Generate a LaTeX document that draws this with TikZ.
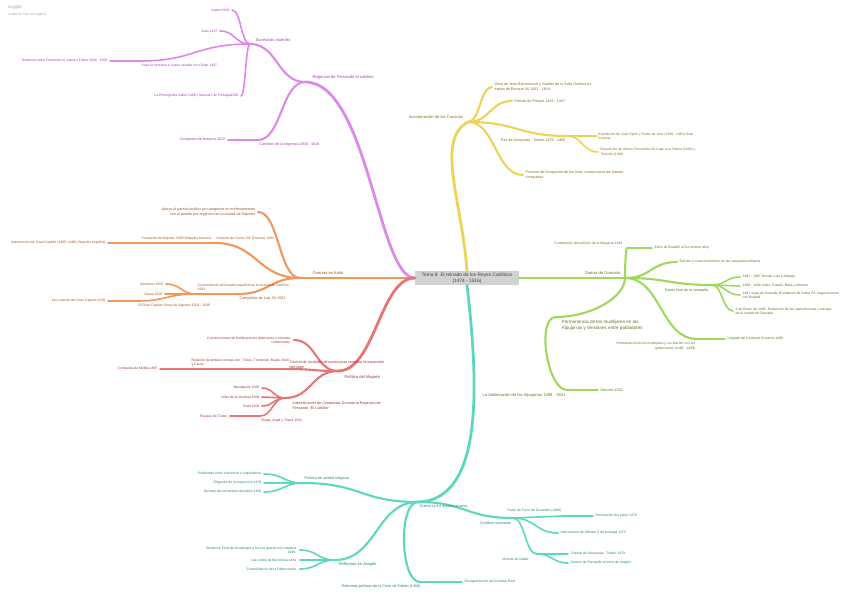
\documentclass[tikz,border=0pt]{standalone}
\usepackage{fontspec}
\setmainfont{Liberation Sans}
\usepackage{tikz}
\usetikzlibrary{positioning, calc}

\definecolor{purline}{HTML}{DD88EA}
\definecolor{purtext}{HTML}{9A3FB0}
\definecolor{yelline}{HTML}{EBD458}
\definecolor{yeltext}{HTML}{86701E}
\definecolor{oraline}{HTML}{F0985C}
\definecolor{oratext}{HTML}{A0532A}
\definecolor{redline}{HTML}{E87474}
\definecolor{redtext}{HTML}{9E3232}
\definecolor{grnline}{HTML}{9ED85E}
\definecolor{grntext}{HTML}{5A7620}
\definecolor{tealine}{HTML}{5CD8BC}
\definecolor{teatext}{HTML}{2A7F6B}
\definecolor{rootfill}{HTML}{D2D2D2}

\begin{document}
\begin{tikzpicture}[
        x=1pt, y=-1pt,
        line cap=round,
        root/.style = {fill=rootfill, minimum width=104pt, minimum height=14pt, inner sep=1pt, align=center, text=black!75, font=\fontsize{4.8}{5.8}\selectfont},
        txt/.style  = {inner sep=0.5pt, font=\fontsize{3.4}{4.3}\selectfont},
        sub/.style  = {inner sep=0.5pt, font=\fontsize{3.7}{4.6}\selectfont},
        mid/.style  = {inner sep=0.5pt, font=\fontsize{4.1}{5}\selectfont},
        big/.style  = {inner sep=0.5pt, font=\fontsize{4.6}{5.6}\selectfont},
        l1/.style = {line width=2.8pt},
        l2/.style = {line width=2.1pt},
        l3/.style = {line width=1.6pt},
        pur/.style = {draw=purline}, purt/.style = {text=purtext},
        yel/.style = {draw=yelline}, yelt/.style = {text=yeltext},
        ora/.style = {draw=oraline}, orat/.style = {text=oratext},
        red/.style = {draw=redline}, redt/.style = {text=redtext},
        grn/.style = {draw=grnline}, grnt/.style = {text=grntext},
        tea/.style = {draw=tealine}, teat/.style = {text=teatext},
        hlink/.style = {to path={let \p1=(\tikztostart), \p2=(\tikztotarget) in
            .. controls ({(\x1+\x2)/2},\y1) and ({(\x1+\x2)/2},\y2) .. (\tikztotarget)}},
        vlink/.style = {to path={let \p1=(\tikztostart), \p2=(\tikztotarget) in
            .. controls (\x1,{(\y1+\y2)/2}) and ({(\x1+\x2)/2},\y2) .. (\tikztotarget)}},
    ]
        \useasboundingbox (0,0) rectangle (848,596);

        \node[inner sep=0, anchor=west, text=black!35, font=\fontsize{4.6}{5}\selectfont\itshape] (logo) at (8,7) {coggle};
        \node[txt, anchor=west, text=black!35] (made) at (8,15) {made for free at coggle.it};

        \node[root] (cen) at (467,278) {Tema 8: El reinado de los Reyes Católicos\\(1474 - 1516)};

        % Regencia
        \coordinate (reg) at (305,82);
        \coordinate (muer) at (250,44);
        \coordinate (isa) at (232,10);
        \coordinate (jua) at (220,31);
        \coordinate (her) at (140,61);
        \coordinate (ten) at (110,61);
        \coordinate (pri) at (241,96);
        \coordinate (camb) at (258,140);
        \coordinate (nav) at (228,140);
        \draw[pur, l1] (cen.west) .. controls (378,278) and (368,82) .. (reg);
        \draw[pur, l2, hlink] (reg) to (muer);
        \draw[pur, l3, hlink] (muer) to (isa);
        \draw[pur, l3, hlink] (muer) to (jua);
        \draw[pur, l3, hlink] (muer) to (her);
        \draw[pur, l3] (her) -- (ten);
        \draw[pur, l3, hlink] (muer) to (pri);
        \draw[pur, l2, hlink] (reg) to (camb);
        \draw[pur, l3] (camb) -- (nav);
        \node[mid, purt, anchor=west] (regT) at (312,77) {Regencia de Fernando el católico};
        \node[mid, purt, anchor=west] (muerT) at (255,40) {Sucesivas muertes};
        \node[txt, purt, left=2pt of isa] (isaT) {Isabel 1504};
        \node[txt, purt, left=2pt of jua] (juaT) {Juan 1497};
        \node[txt, purt, anchor=north west] (herT) at (141,63.5) {Pasa la herencia a Juana casada con Felipe 1497};
        \node[txt, purt, left=2pt of ten] (tenT) {Tensiones entre Fernando vs Juana y Felipe 1504 - 1506};
        \node[txt, purt, left=2pt of pri] (priT) {La Primogénita Isabel 1498 y Manuel I de Portugal1500};
        \node[sub, purt, anchor=west] (cambT) at (259,145) {Cambios de la regencia 1506 - 1516};
        \node[sub, purt, left=2pt of nav] (navT) {Conquista de Navarra 1512};

        % Canarias
        \coordinate (can) at (468,122);
        \coordinate (obra) at (492,87);
        \coordinate (pera) at (512,101);
        \coordinate (alc) at (567,136);
        \coordinate (rejon) at (597,136);
        \coordinate (lugo) at (598,152);
        \coordinate (ocup) at (523,175);
        \draw[yel, l1] (cen.north) .. controls (462,201) and (435,140) .. (can);
        \draw[yel, l2, hlink] (can) to (obra);
        \draw[yel, l2, hlink] (can) to (pera);
        \draw[yel, l2, hlink] (can) to (alc);
        \draw[yel, l3] (alc) -- (rejon);
        \draw[yel, l3, hlink] (alc) to (lugo);
        \draw[yel, l2, hlink] (can) to (ocup);
        \node[mid, yelt, anchor=east] (canT) at (464,117) {Incorporación de las Canarias};
        \node[sub, yelt, right=2pt of obra, align=left] (obraT) {Obra de Jean Bethencourt y Gadifer de la Salle (Ambos en\\época de Enrique III) 1402 - 1404};
        \node[sub, yelt, right=2pt of pera] (peraT) {Fernán de Peraza 1445 - 1447};
        \node[sub, yelt, anchor=east] (alcT) at (566,141) {Paz de Alcaçovas - Toledo 1479 - 1480};
        \node[txt, yelt, right=1pt of rejon, align=left] (rejonT) {Expedición de Juan Rejón y Pedro de Vera (1480 - 1483) Gran\\Canaria.};
        \node[txt, yelt, right=2pt of lugo, align=left] (lugoT) {Expedición de Alonso Fernández de Lugo a La Palma (1493) y\\Tenerife (1496)};
        \node[sub, yelt, right=2pt of ocup, align=left] (ocupT) {Proceso de Ocupación de las Islas, ensayo para las futuras\\conquistas.};

        % Italia
        \coordinate (ita) at (300,278);
        \coordinate (apoyo) at (258,212);
        \coordinate (inv) at (215,243);
        \coordinate (npf) at (140,243);
        \coordinate (gcap) at (108,243);
        \coordinate (luis) at (238,294);
        \coordinate (ceri) at (196,294);
        \coordinate (gare) at (166,284);
        \coordinate (gaeta) at (165,294);
        \coordinate (virr) at (137,301);
        \coordinate (cuen) at (108,301);
        \draw[ora, l1] (cen.west) -- (ita);
        \draw[ora, l2, hlink] (ita) to (apoyo);
        \draw[ora, l2, hlink] (ita) to (inv);
        \draw[ora, l3] (inv) -- (npf);
        \draw[ora, l3] (npf) -- (gcap);
        \draw[ora, l2, hlink] (ita) to (luis);
        \draw[ora, l3] (luis) -- (ceri);
        \draw[ora, l3, hlink] (ceri) to (gare);
        \draw[ora, l3] (ceri) -- (gaeta);
        \draw[ora, l3, hlink] (ceri) to (virr);
        \draw[ora, l3] (virr) -- (cuen);
        \node[mid, orat, anchor=west] (itaT) at (312,273) {Guerras en Italia};
        \node[sub, orat, left=2pt of apoyo, align=right] (apoyoT) {Apoyo al partido político pro-aragonés en enfrentamiento\\con el partido pro angevino en la ciudad de Nápoles};
        \node[txt, orat, anchor=west] (invT) at (216,238.5) {Invasión de Carlos VIII (Francia) 1494};
        \node[txt, orat, anchor=west] (npfT) at (141,238.5) {Conquista de Nápoles 1495 (Nápoles francés)};
        \node[txt, orat, left=2pt of gcap] (gcapT) {Intervención del Gran Capitán (1495- 1496) (Nápoles español)};
        \node[sub, orat, anchor=west] (luisT) at (239,298.5) {Campañas de Luis XII 1502};
        \node[txt, orat, anchor=west, align=left] (ceriT) at (197,287.5) {Consolidación del estado español tras la victoria de Ceriñola\\1503};
        \node[txt, orat, left=2pt of gare] (gareT) {Garellano 1503};
        \node[txt, orat, left=2pt of gaeta] (gaetaT) {Gaeta 1504};
        \node[txt, orat, anchor=west] (virrT) at (138,306) {El Gran Capitán Virrey de Nápoles 1504 - 1506};
        \node[txt, orat, left=2pt of cuen] (cuenT) {Las cuentas del Gran Capitán 1506};

        % Magreb
        \coordinate (mag) at (338,371);
        \coordinate (fort) at (294,340);
        \coordinate (ctrl) at (288,369);
        \coordinate (rel) at (190,369);
        \coordinate (meli) at (160,369);
        \coordinate (inte) at (285,398);
        \coordinate (maza) at (262,388);
        \coordinate (velez) at (262,397);
        \coordinate (oran) at (262,406);
        \coordinate (bugia) at (260,416);
        \coordinate (tunez) at (230,416);
        \draw[red, l1] (cen.west) .. controls (380,278) and (375,371) .. (mag);
        \draw[red, l2, hlink] (mag) to (fort);
        \draw[red, l2, hlink] (mag) to (ctrl);
        \draw[red, l3] (ctrl) -- (rel);
        \draw[red, l3] (rel) -- (meli);
        \draw[red, l2, hlink] (mag) to (inte);
        \draw[red, l3, hlink] (inte) to (maza);
        \draw[red, l3, hlink] (inte) to (velez);
        \draw[red, l3, hlink] (inte) to (oran);
        \draw[red, l3, hlink] (inte) to (bugia);
        \draw[red, l3] (bugia) -- (tunez);
        \node[mid, redt, anchor=west] (magT) at (344,377) {Política del Magreb};
        \node[txt, redt, left=3pt of fort, align=right] (fortT) {Construcciones de fortificaciones defensivas y colonias\\comerciales.};
        \node[sub, redt, anchor=west, align=left] (ctrlT) at (289,364.5) {Control de ciudades africanas para controlar la expansión\\del Islam};
        \node[txt, redt, anchor=west, align=left] (relT) at (191,362.5) {Relación de ambas coronas con: Túnez, Tremecén, Bugía, Orán\\y Ceuta};
        \node[txt, redt, left=2pt of meli] (meliT) {Conquista de Melilla 1497};
        \node[sub, redt, anchor=west, align=left] (inteT) at (292,405.5) {Intensificación de Conquistas Durante la Regencia de\\Fernando "El Católico"};
        \node[txt, redt, left=2pt of maza] (mazaT) {Mazalquivir 1505};
        \node[txt, redt, left=2pt of velez] (velezT) {Vélez de la Gomera 1508};
        \node[txt, redt, left=2pt of oran] (oranT) {Orán 1509};
        \node[txt, redt, anchor=west] (bugiaT) at (261,421) {Bugía, Argel y Trípoli 1510};
        \node[txt, redt, left=2pt of tunez] (tunezT) {Fracaso de Túnez};

        % Granada
        \coordinate (gran) at (625,278);
        \coordinate (senor) at (627,248);
        \coordinate (exil) at (652,248);
        \coordinate (ejer) at (677,262);
        \coordinate (fase) at (712,285);
        \coordinate (ronda) at (740,277);
        \coordinate (guad) at (740,286);
        \coordinate (vega) at (740,295);
        \coordinate (enero) at (733,311);
        \coordinate (relm) at (697,339);
        \coordinate (cisn) at (725,339);
        \coordinate (perm) at (556,317);
        \coordinate (subl) at (567,390);
        \coordinate (decr) at (598,390);
        \draw[grn, l1] (cen.east) -- (gran);
        \draw[grn, l2, vlink] (gran) to (senor);
        \draw[grn, l3] (senor) -- (exil);
        \draw[grn, l2, hlink] (gran) to (ejer);
        \draw[grn, l2, hlink] (gran) to (fase);
        \draw[grn, l3, hlink] (fase) to (ronda);
        \draw[grn, l3, hlink] (fase) to (guad);
        \draw[grn, l3, hlink] (fase) to (vega);
        \draw[grn, l3, hlink] (fase) to (enero);
        \draw[grn, l2, hlink] (gran) to (relm);
        \draw[grn, l3] (relm) -- (cisn);
        \draw[grn, l2, vlink] (gran) to (perm);
        \draw[grn, l2] (perm) .. controls (536,317) and (547,390) .. (subl);
        \draw[grn, l3] (subl) -- (decr);
        \node[mid, grnt, anchor=east] (granT) at (621,273) {Guerra de Granada};
        \node[txt, grnt, anchor=east] (senorT) at (623,244) {Constitución del señorío de la Alpujarra 1493};
        \node[txt, grnt, right=2pt of exil] (exilT) {Exilio de Boabdil a Fez (mismo año)};
        \node[txt, grnt, right=2pt of ejer] (ejerT) {Ejército y coste económico de las campañas militares};
        \node[sub, grnt, anchor=east] (faseT) at (709,291) {Fases final de la campaña};
        \node[txt, grnt, right=2pt of ronda] (rondaT) {1482 - 1487 Ronda, Loja y Málaga};
        \node[txt, grnt, right=2pt of guad] (guadT) {1488 - 1490 Vélez, Guadix, Baza y Almería};
        \node[txt, grnt, right=2pt of vega, align=left] (vegaT) {1491 Vega de Granada (Fundación de Santa Fé, negociaciones\\con Boabdil};
        \node[txt, grnt, right=2pt of enero, align=left] (eneroT) {2 de Enero de 1492: Redacción de las capitulaciones y entrega\\de la ciudad de Granada};
        \node[txt, grnt, anchor=east, align=right] (relmT) at (696,346) {Permanencia de los mudéjares y su relación con los\\gobernantes (1493 - 1499)};
        \node[txt, grnt, right=2pt of cisn] (cisnT) {Llegada del Cardenal Cisneros 1499};
        \node[big, grnt, anchor=west, align=left] (permT) at (561,325.5) {Permanencia de los mudéjares en las\\Alpujarras y tensiones entre pobladores};
        \node[mid, grnt, anchor=east] (sublT) at (566,395) {La Sublevación de las Alpujarras 1499 - 1501};
        \node[sub, grnt, right=2pt of decr] (decrT) {Decreto 1502};

        % Trono
        \coordinate (trono) at (418,502);
        \coordinate (unid) at (303,483);
        \coordinate (conv) at (264,474);
        \coordinate (inq) at (264,483);
        \coordinate (jud) at (264,492);
        \coordinate (arag) at (335,560);
        \coordinate (guada) at (300,550);
        \coordinate (barc) at (300,560);
        \coordinate (obse) at (300,569);
        \coordinate (tole) at (420,582);
        \coordinate (cons) at (462,582);
        \coordinate (suce) at (513,518);
        \coordinate (guis) at (563,516);
        \coordinate (revo) at (593,516);
        \coordinate (alfo) at (558,533);
        \coordinate (vict) at (537,554);
        \coordinate (trat) at (568,554);
        \coordinate (acce) at (568,563);
        \draw[tea, l1] (cen.south) .. controls (478,380) and (485,500) .. (trono);
        \draw[tea, l2, hlink] (trono) to (unid);
        \draw[tea, l3, hlink] (unid) to (conv);
        \draw[tea, l3, hlink] (unid) to (inq);
        \draw[tea, l3, hlink] (unid) to (jud);
        \draw[tea, l2, hlink] (trono) to (arag);
        \draw[tea, l3, hlink] (arag) to (guada);
        \draw[tea, l3, hlink] (arag) to (barc);
        \draw[tea, l3, hlink] (arag) to (obse);
        \draw[tea, l2] (trono) .. controls (398,502) and (400,582) .. (tole);
        \draw[tea, l3] (tole) -- (cons);
        \draw[tea, l2, hlink] (trono) to (suce);
        \draw[tea, l3] (suce) -- (guis);
        \draw[tea, l3] (guis) -- (revo);
        \draw[tea, l3, hlink] (suce) to (alfo);
        \draw[tea, l3, hlink] (suce) to (vict);
        \draw[tea, l3, hlink] (vict) to (trat);
        \draw[tea, l3, hlink] (vict) to (acce);
        \node[sub, teat, anchor=west] (tronoT) at (419,507) {Guerra civil y acceso al trono};
        \node[sub, teat, anchor=west] (unidT) at (304,479) {Política de unidad religiosa};
        \node[txt, teat, left=2pt of conv] (convT) {Problemas entre conversos e inquisidores};
        \node[txt, teat, left=2pt of inq] (inqT) {Orígenes de la Inquisición 1478};
        \node[txt, teat, left=2pt of jud] (judT) {Decreto de conversión de judíos 1492};
        \node[mid, teat, anchor=west] (aragT) at (338,564) {Reformas en Aragón};
        \node[txt, teat, left=3pt of guada, align=right] (guadaT) {Sentencia Final de Guadalupe y fin a la guerra civil catalana\\1486.};
        \node[txt, teat, left=3pt of barc] (barcT) {Las cortes de Barcelona 1481};
        \node[txt, teat, left=3pt of obse] (obseT) {Consolidación de la Observancia};
        \node[sub, teat, anchor=east] (toleT) at (421,587) {Reformas políticas de la Corte de Toledo (1480)};
        \node[txt, teat, right=2pt of cons] (consT) {Reorganización del Consejo Real};
        \node[sub, teat, anchor=east] (suceT) at (512,523) {Conflicto sucesorio};
        \node[txt, teat, anchor=east] (guisT) at (562,511) {Pacto de Toros de Guisando (1468)};
        \node[txt, teat, right=2pt of revo] (revoT) {Revocación del pacto 1470};
        \node[txt, teat, right=2pt of alfo] (alfoT) {Intervención de Alfonso V de portugal 1475};
        \node[txt, teat, anchor=east] (victT) at (529,559) {Victoria de Isabel};
        \node[txt, teat, right=2pt of trat] (tratT) {Tratado de Alcaçovas - Toledo 1479};
        \node[txt, teat, right=2pt of acce] (acceT) {Acceso de Fernando al trono de Aragón};
    \end{tikzpicture}
\end{document}
